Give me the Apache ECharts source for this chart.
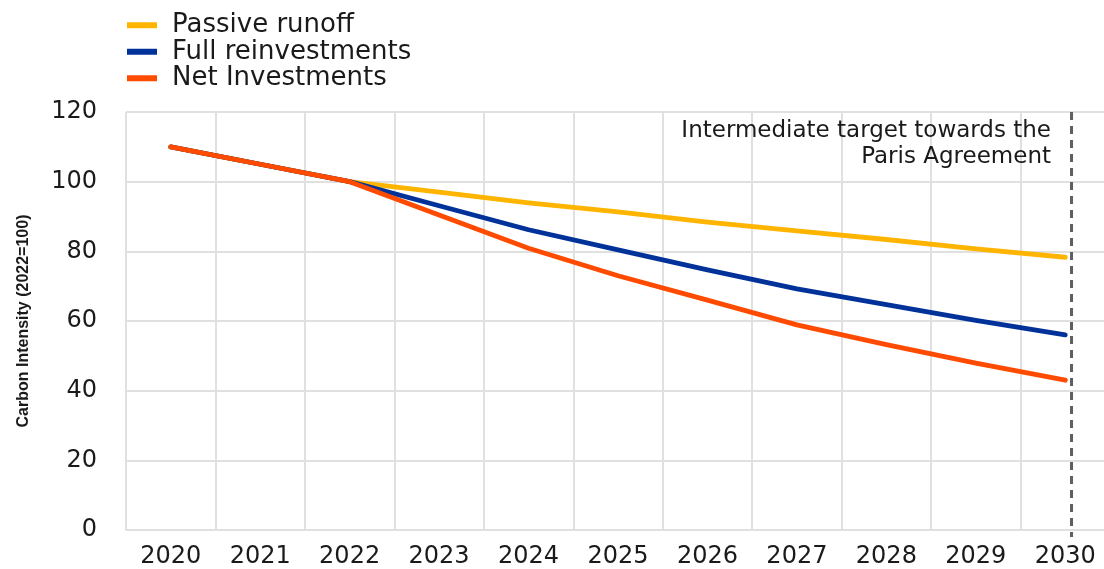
<!DOCTYPE html>
<html>
<head>
<meta charset="utf-8">
<style>
html,body{margin:0;padding:0;background:#fff;overflow:hidden;}
#chart{width:1110px;height:569px;}
</style>
<script src="https://cdn.jsdelivr.net/npm/echarts@6/dist/echarts.min.js"></script>
</head>
<body>
<div id="chart"></div>
<script>
const years = ['2020','2021','2022','2023','2024','2025','2026','2027','2028','2029','2030'];
const passiveRunoff = [110, 105, 100, 97.0, 93.9, 91.3, 88.4, 85.9, 83.4, 80.7, 78.3];
const fullReinvestments = [110, 105, 100, 93.1, 86.2, 80.4, 74.7, 69.2, 64.7, 60.2, 56];
const netInvestments = [110, 105, 100, 90.4, 80.9, 73.0, 66.0, 58.9, 53.2, 47.9, 43];
const yTicks = {min: 0, max: 120, interval: 20};
const targetMarker = 10.07; // position of the Paris target marker on the year index scale
const targetLine = [[targetMarker, yTicks.max], [targetMarker, yTicks.min - 2]];
const annotation = 'Intermediate target towards the\nParis Agreement';

const FONT = 'DejaVu Sans';
const chart = echarts.init(document.getElementById('chart'));
const lineSeries = (name, data, color, z) => ({
  name, type: 'line', data, xAxisIndex: 0, yAxisIndex: 0,
  symbol: 'none', smooth: false, z,
  lineStyle: {color, width: 4.8, cap: 'round', join: 'round'},
  itemStyle: {color}
});
chart.setOption({
  animation: false,
  grid: {left: 126, right: 0, top: 112, bottom: 39},
  legend: {
    orient: 'vertical', left: 122, top: 7, itemGap: 0,
    icon: 'rect', itemWidth: 30, itemHeight: 6,
    textStyle: {fontFamily: FONT, fontSize: 26, color: '#1a1a1a', lineHeight: 26.5, padding: [0,0,0,10]},
    data: ['Passive runoff', 'Full reinvestments', 'Net Investments']
  },
  xAxis: [{
    type: 'category', data: years, boundaryGap: true,
    axisLine: {show: true, lineStyle: {color: '#e0e0e0', width: 2}},
    axisTick: {show: false},
    axisLabel: {fontFamily: FONT, fontSize: 24, color: '#1a1a1a', margin: 15},
    splitLine: {show: true, lineStyle: {color: '#e0e0e0', width: 2}}
  }, {
    type: 'value', min: -0.5, max: years.length - 0.5, show: false
  }],
  yAxis: {
    type: 'value', min: yTicks.min, max: yTicks.max, interval: yTicks.interval,
    name: 'Carbon Intensity (2022=100)', nameLocation: 'middle', nameGap: 94,
    nameTextStyle: {fontFamily: 'Liberation Sans', fontWeight: 'bold', fontSize: 16, color: '#1a1a1a'},
    axisLine: {show: false}, axisTick: {show: false},
    axisLabel: {fontFamily: FONT, fontSize: 24, color: '#1a1a1a', margin: 29},
    splitLine: {show: true, lineStyle: {color: '#e0e0e0', width: 2}}
  },
  series: [
    lineSeries('Passive runoff', passiveRunoff, '#FFB400', 3),
    lineSeries('Full reinvestments', fullReinvestments, '#003299', 4),
    lineSeries('Net Investments', netInvestments, '#FF4B00', 5),
    {
      name: 'target', type: 'line', xAxisIndex: 1, yAxisIndex: 0, data: targetLine,
      symbol: 'none', silent: true, z: 6, clip: false,
      lineStyle: {color: '#5f5f5f', width: 3, type: [8, 6]}
    }
  ],
  graphic: [{
    type: 'text', x: 1051, y: 118, z: 10,
    style: {text: annotation, fontFamily: FONT, fontSize: 23, fill: '#1a1a1a',
            align: 'right', verticalAlign: 'top', lineHeight: 26}
  }]
});
</script>
</body>
</html>
